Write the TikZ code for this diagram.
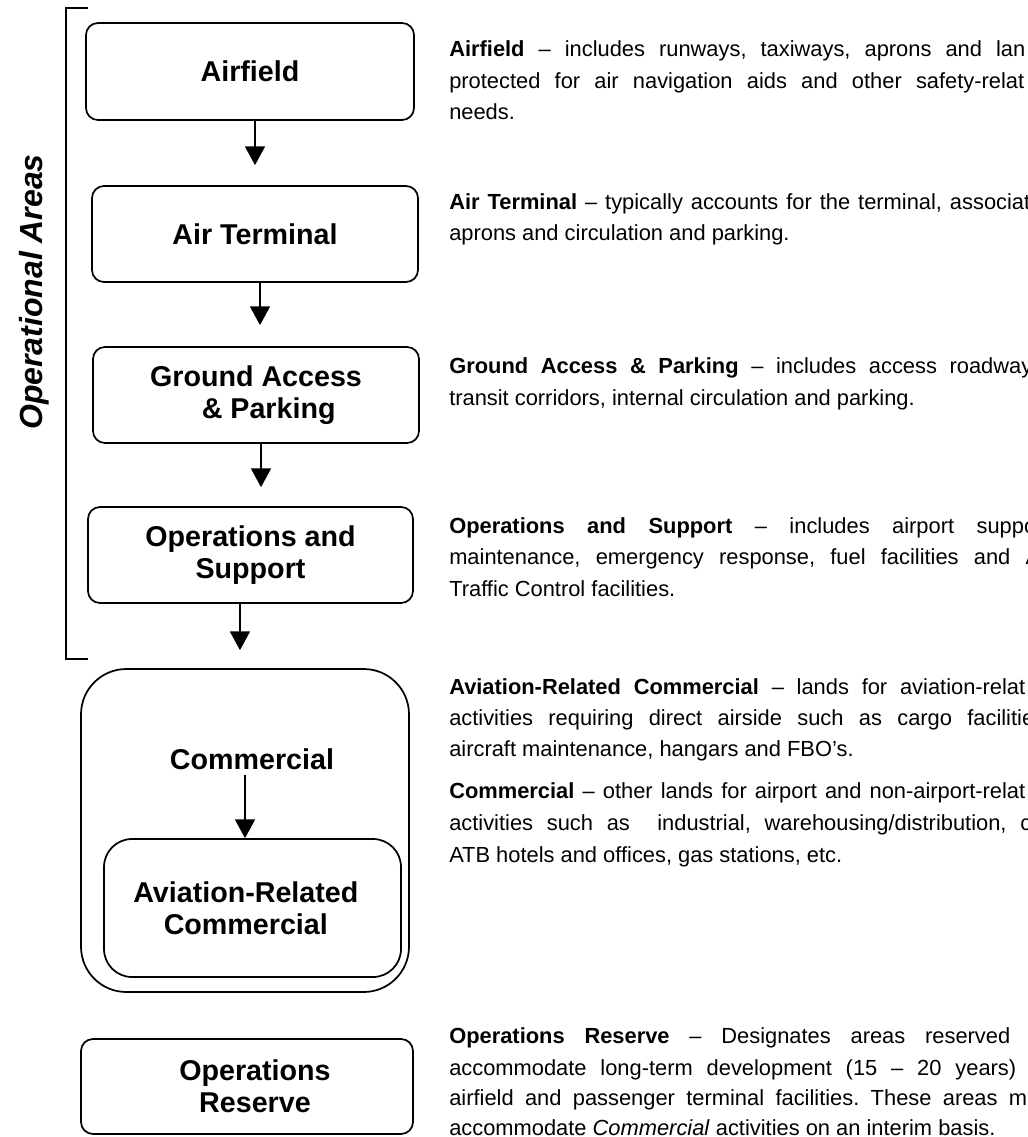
\documentclass[tikz,border=0pt]{standalone}
\usepackage{fontspec}
\setmainfont{Liberation Sans}
\usetikzlibrary{arrows.meta}
\tikzset{
  stage/.style={draw, line width=1.3pt, rounded corners=9pt, align=center,
    font=\bfseries\fontsize{21.5}{24}\selectfont, inner sep=0pt},
  boxlabel/.style={align=center, font=\bfseries\fontsize{21.5}{24}\selectfont, inner sep=0pt},
  arr/.style={line width=1pt, -{Triangle[width=15pt,length=14pt]}},
  desc/.style={anchor=base west, inner sep=0pt, font=\frenchspacing\fontsize{16.4}{19}\selectfont},
  bracket/.style={line width=1.1pt},
}
\newcommand{\jline}[2]{\makebox[\dimexpr(#1pt-449pt)*3/4\relax][s]{#2}}
\begin{document}
\begin{tikzpicture}[x=0.75pt,y=-0.75pt]
\useasboundingbox (0,0) rectangle (1027,1137);

% bracket and side label
\coordinate (bt) at (88,8);
\coordinate (bb) at (88,659);
\draw[bracket] (bt) -- (66,8) -- (66,659) -- (bb);
\node[rotate=90, anchor=base, inner sep=0pt, font=\bfseries\itshape\fontsize{24}{28}\selectfont] (opa) at (42,292) {Operational Areas};

% stage boxes
\node[stage, minimum width={328*0.75pt}, minimum height={97*0.75pt}] (af) at (250,71.5) {Airfield};
\node[stage, minimum width={326*0.75pt}, minimum height={96*0.75pt}] (at) at (255,234) {Air Terminal};
\node[stage, minimum width={326*0.75pt}, minimum height={96*0.75pt}] (ga) at (256,395) {Ground Access\\\hspace*{19pt}\& Parking};
\node[stage, minimum width={325*0.75pt}, minimum height={96*0.75pt}] (os) at (250.5,555) {Operations and\\Support};
\node[draw, line width=1.3pt, rounded corners=34pt, minimum width={328*0.75pt}, minimum height={323*0.75pt}, inner sep=0pt] (cmo) at (245,830.5) {};
\node[boxlabel] (cm) at (252,759) {Commercial};
\node[stage, rounded corners=21pt, minimum width={297*0.75pt}, minimum height={138*0.75pt}] (avr) at (252.5,908) {Aviation-Related\hspace*{10pt}\\Commercial\hspace*{10pt}};
\node[stage, minimum width={332*0.75pt}, minimum height={95*0.75pt}] (or) at (247,1086.5) {\hspace*{12pt}Operations\\\hspace*{12pt}Reserve};

% connectors
\draw[arr, shorten >=15pt] ([xshift=3.75pt]af.south) -- ([xshift=3.75pt]af.south |- at.north);
\draw[arr, shorten >=15.75pt] ([xshift=3.75pt]at.south) -- ([xshift=3.75pt]at.south |- ga.north);
\draw[arr, shorten >=14.25pt] ([xshift=3.75pt]ga.south) -- ([xshift=3.75pt]ga.south |- os.north);
\draw[arr, shorten >=13.5pt] ([xshift=-7.9pt]os.south) -- ([xshift=-7.9pt]os.south |- cmo.north);
\draw[arr, shorten <=3.75pt] ([xshift=-5.25pt]cm.south) -- ([xshift=-5.25pt]cm.south |- avr.north);

% descriptions
\begin{scope}
\clip (0,0) rectangle (1027,1137);
\node[desc] (d1a) at (449,57) {\jline{1025}{\textbf{Airfield} – includes runways, taxiways, aprons and lan}};
\node[desc] (d1b) at (449,88.5) {\jline{1024}{protected for air navigation aids and other safety-relat}};
\node[desc] (d1c) at (449,120) {needs.};

\node[desc] (d2a) at (449,210) {\jline{1030}{\textbf{Air Terminal} – typically accounts for the terminal, associat}};
\node[desc] (d2b) at (449,241) {aprons and circulation and parking.};

\node[desc] (d3a) at (449,373) {\jline{1032}{\textbf{Ground Access \& Parking} – includes access roadway}};
\node[desc] (d3b) at (449,405) {transit corridors, internal circulation and parking.};

\node[desc] (d4a) at (449,533) {\jline{1036}{\textbf{Operations and Support} – includes airport suppo}};
\node[desc] (d4b) at (449,564) {\jline{1040}{maintenance, emergency response, fuel facilities and A}};
\node[desc] (d4c) at (449,596) {Traffic Control facilities.};

\node[desc] (d5a) at (449,694) {\jline{1025}{\textbf{Aviation-Related Commercial} – lands for aviation-relat}};
\node[desc] (d5b) at (449,725) {\jline{1034}{activities requiring direct airside such as cargo facilitie}};
\node[desc] (d5c) at (449,756) {aircraft maintenance, hangars and FBO’s.};

\node[desc] (d6a) at (449,798) {\jline{1025}{\textbf{Commercial} – other lands for airport and non-airport-relat}};
\node[desc] (d6b) at (449,830) {\jline{1031}{activities such as\ \ industrial, warehousing/distribution, c}};
\node[desc] (d6c) at (449,862) {ATB hotels and offices, gas stations, etc.};

\node[desc] (d7a) at (449,1043) {\jline{1010}{\textbf{Operations Reserve} – Designates areas reserved}};
\node[desc] (d7b) at (449,1075) {\jline{1016}{accommodate long-term development (15 – 20 years)}};
\node[desc] (d7c) at (449,1105) {\jline{1027}{airfield and passenger terminal facilities. These areas m}};
\node[desc] (d7d) at (449,1135) {accommodate \textit{Commercial} activities on an interim basis.};
\end{scope}
\end{tikzpicture}
\end{document}
